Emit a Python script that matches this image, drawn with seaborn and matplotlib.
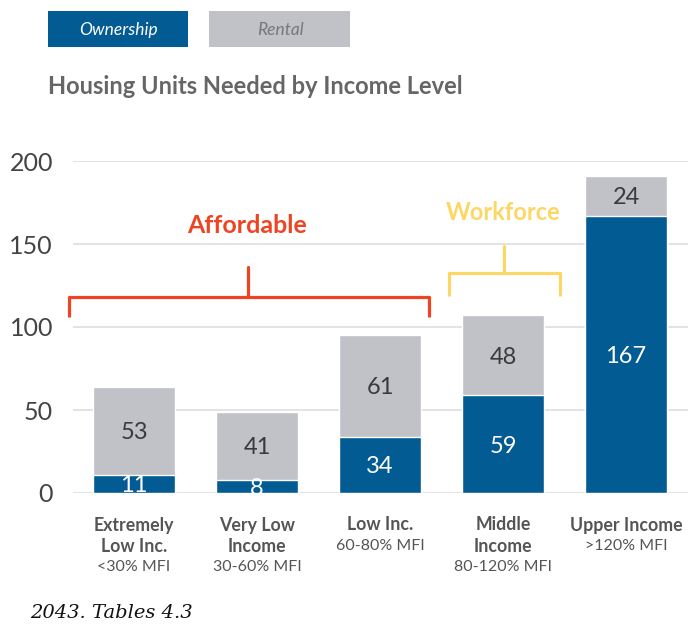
import matplotlib
matplotlib.use("Agg")
import matplotlib.pyplot as plt
import seaborn as sns
import pandas as pd
from matplotlib.patches import Rectangle

categories = ["Extremely\nLow Inc.", "Very Low\nIncome", "Low Inc.", "Middle\nIncome", "Upper Income"]
sublabels = ["<30% MFI", "30-60% MFI", "60-80% MFI", "80-120% MFI", ">120% MFI"]
ownership = [11, 8, 34, 59, 167]
rental = [53, 41, 61, 48, 24]
yticks = [0, 50, 100, 150, 200]

BLUE = "#035b93"
GRAY = "#c0c2c8"
RED = "#ee4424"
YELLOW = "#fdd766"
TXT = "#555555"

sns.set_theme(style="white")
plt.rcParams["font.family"] = ["Lato", "DejaVu Sans"]

df = pd.DataFrame({"cat": categories, "own": ownership, "rent": rental})
df["total"] = df["own"] + df["rent"]

W, H = 690, 627
fig = plt.figure(figsize=(W / 100, H / 100), dpi=100)
ax = fig.add_axes([72.5 / W, (H - 493) / H, 615 / W, 332 / H])

sns.barplot(data=df, x="cat", y="total", color=GRAY, width=0.667, saturation=1, ax=ax, zorder=2)
sns.barplot(data=df, x="cat", y="own", color=BLUE, width=0.667, saturation=1, ax=ax, zorder=3)

ax.set_xlim(-0.5, 4.5)
ax.set_ylim(0, 200)
ax.set_yticks(yticks)
ax.set_yticklabels([str(t) for t in yticks], fontsize=18, color="#444444")
for t in yticks:
    ax.axhline(t, color="#e0e0e0", lw=1.3, zorder=1)
for s in ax.spines.values():
    s.set_visible(False)
ax.tick_params(axis="y", length=0, pad=14)
ax.set_xlabel("")
ax.set_ylabel("")
ax.set_xticks(range(5))
ax.set_xticklabels([])
ax.tick_params(axis="x", length=0)

for i, (o, r) in enumerate(zip(ownership, rental)):
    ax.text(i, o / 2, str(o), ha="center", va="center_baseline", color="white", fontsize=17, zorder=4)
    ax.text(i, o + r / 2, str(r), ha="center", va="center_baseline", color="#3a3a3a", fontsize=17, zorder=4)

# category labels below
for i, (c, s) in enumerate(zip(categories, sublabels)):
    lines = c.split("\n")
    xc = (72.5 + (i + 0.5) * 123) / W
    for j, ln in enumerate(lines):
        fig.text(xc, (H - (525 + 21 * j)) / H, ln, ha="center", va="center",
                 fontsize=12.8, color=TXT, fontweight="bold")
    k = len(lines)
    fig.text(xc, (H - (525 + 21 * k)) / H, s, ha="center", va="center",
             fontsize=11.5, color=TXT)

# brackets
ax.plot([-0.53, -0.53, 2.40, 2.40], [106, 118, 118, 106], color=RED, lw=2.3,
        solid_joinstyle="round", solid_capstyle="butt", clip_on=False, zorder=5)
ax.plot([0.93, 0.93], [118, 136], color=RED, lw=2.3, clip_on=False, zorder=5)
ax.text(0.92, 161, "Affordable", ha="center", va="center", color=RED, fontsize=18,
        fontweight="bold", clip_on=False)
ax.plot([2.56, 2.56, 3.46, 3.46], [118.5, 132.5, 132.5, 118.5], color=YELLOW, lw=2.3,
        solid_joinstyle="round", solid_capstyle="butt", clip_on=False, zorder=5)
ax.plot([3.01, 3.01], [132.5, 149], color=YELLOW, lw=2.3, clip_on=False, zorder=5)
ax.text(3.0, 169, "Workforce", ha="center", va="center", color=YELLOW, fontsize=17,
        fontweight="bold", clip_on=False)

# legend boxes
fig.patches.append(Rectangle((48 / W, (H - 47) / H), 140 / W, 36 / H, transform=fig.transFigure,
                             facecolor=BLUE, edgecolor="none"))
fig.patches.append(Rectangle((209 / W, (H - 47) / H), 141 / W, 36 / H, transform=fig.transFigure,
                             facecolor=GRAY, edgecolor="none"))
fig.text(118 / W, (H - 30) / H, "Ownership", ha="center", va="center", color="white",
         fontsize=12.5, style="italic")
fig.text(280 / W, (H - 30) / H, "Rental", ha="center", va="center", color="#777777",
         fontsize=12.5, style="italic")

fig.text(48 / W, (H - 87) / H, "Housing Units Needed by Income Level", ha="left", va="center",
         color="#666666", fontsize=17, fontweight="bold")

fig.text(30 / W, (H - 613) / H, "2043. Tables 4.3", ha="left", va="center",
         family=["DejaVu Serif"], style="italic", fontsize=14, color="#111111")

fig.savefig("out.png", dpi=100)
